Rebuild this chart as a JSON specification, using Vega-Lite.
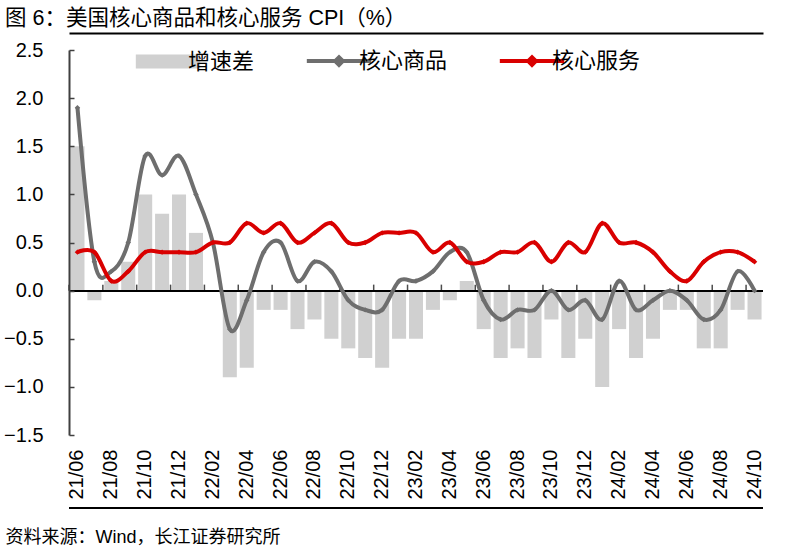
{
  "$schema": "https://vega.github.io/schema/vega-lite/v6.json",
  "autosize": {"type": "none"},
  "width": 694,
  "height": 385,
  "padding": {"left": 69, "top": 50, "right": 22, "bottom": 124},
  "background": "white",
  "title": {
    "text": "图 6：美国核心商品和核心服务 CPI（%）",
    "anchor": "start",
    "frame": "group",
    "dx": -64,
    "offset": 4,
    "font": "Liberation Sans, Noto Sans CJK SC",
    "fontSize": 21.5,
    "fontWeight": "normal",
    "color": "#000000"
  },
  "config": {
    "view": {"stroke": null},
    "axis": {"labelFont": "Liberation Sans", "labelFontSize": 20, "labelColor": "#000000", "grid": false}
  },
  "data": {
    "values": [
      {"month": "21/06", "goods": 1.9, "services": 0.4, "diff": 1.5},
      {"month": "21/07", "goods": 0.3, "services": 0.4, "diff": -0.1},
      {"month": "21/08", "goods": 0.2, "services": 0.1, "diff": 0.1},
      {"month": "21/09", "goods": 0.5, "services": 0.2, "diff": 0.3},
      {"month": "21/10", "goods": 1.4, "services": 0.4, "diff": 1.0},
      {"month": "21/11", "goods": 1.2, "services": 0.4, "diff": 0.8},
      {"month": "21/12", "goods": 1.4, "services": 0.4, "diff": 1.0},
      {"month": "22/01", "goods": 1.0, "services": 0.4, "diff": 0.6},
      {"month": "22/02", "goods": 0.5, "services": 0.5, "diff": 0.0},
      {"month": "22/03", "goods": -0.4, "services": 0.5, "diff": -0.9},
      {"month": "22/04", "goods": -0.1, "services": 0.7, "diff": -0.8},
      {"month": "22/05", "goods": 0.4, "services": 0.6, "diff": -0.2},
      {"month": "22/06", "goods": 0.5, "services": 0.7, "diff": -0.2},
      {"month": "22/07", "goods": 0.1, "services": 0.5, "diff": -0.4},
      {"month": "22/08", "goods": 0.3, "services": 0.6, "diff": -0.3},
      {"month": "22/09", "goods": 0.2, "services": 0.7, "diff": -0.5},
      {"month": "22/10", "goods": -0.1, "services": 0.5, "diff": -0.6},
      {"month": "22/11", "goods": -0.2, "services": 0.5, "diff": -0.7},
      {"month": "22/12", "goods": -0.2, "services": 0.6, "diff": -0.8},
      {"month": "23/01", "goods": 0.1, "services": 0.6, "diff": -0.5},
      {"month": "23/02", "goods": 0.1, "services": 0.6, "diff": -0.5},
      {"month": "23/03", "goods": 0.2, "services": 0.4, "diff": -0.2},
      {"month": "23/04", "goods": 0.4, "services": 0.5, "diff": -0.1},
      {"month": "23/05", "goods": 0.4, "services": 0.3, "diff": 0.1},
      {"month": "23/06", "goods": -0.1, "services": 0.3, "diff": -0.4},
      {"month": "23/07", "goods": -0.3, "services": 0.4, "diff": -0.7},
      {"month": "23/08", "goods": -0.2, "services": 0.4, "diff": -0.6},
      {"month": "23/09", "goods": -0.2, "services": 0.5, "diff": -0.7},
      {"month": "23/10", "goods": 0.0, "services": 0.3, "diff": -0.3},
      {"month": "23/11", "goods": -0.2, "services": 0.5, "diff": -0.7},
      {"month": "23/12", "goods": -0.1, "services": 0.4, "diff": -0.5},
      {"month": "24/01", "goods": -0.3, "services": 0.7, "diff": -1.0},
      {"month": "24/02", "goods": 0.1, "services": 0.5, "diff": -0.4},
      {"month": "24/03", "goods": -0.2, "services": 0.5, "diff": -0.7},
      {"month": "24/04", "goods": -0.1, "services": 0.4, "diff": -0.5},
      {"month": "24/05", "goods": 0.0, "services": 0.2, "diff": -0.2},
      {"month": "24/06", "goods": -0.1, "services": 0.1, "diff": -0.2},
      {"month": "24/07", "goods": -0.3, "services": 0.3, "diff": -0.6},
      {"month": "24/08", "goods": -0.2, "services": 0.4, "diff": -0.6},
      {"month": "24/09", "goods": 0.2, "services": 0.4, "diff": -0.2},
      {"month": "24/10", "goods": 0.0, "services": 0.3, "diff": -0.3}
    ]
  },
  "resolve": {"axis": {"x": "independent"}},
  "layer": [
    {
      "mark": {"type": "bar", "color": "#d0d0d0"},
      "encoding": {
        "x": {
          "field": "month", "type": "ordinal", "sort": null,
          "scale": {"paddingInner": 0.17, "paddingOuter": 0.085},
          "axis": {
            "orient": "bottom",
            "values": ["21/06","21/08","21/10","21/12","22/02","22/04","22/06","22/08","22/10","22/12","23/02","23/04","23/06","23/08","23/10","23/12","24/02","24/04","24/06","24/08","24/10"],
            "labelAngle": -90,
            "labelPadding": 14,
            "ticks": false,
            "domain": false,
            "title": null
          }
        },
        "y": {
          "field": "diff", "type": "quantitative",
          "scale": {"domain": [-1.5, 2.5], "nice": false, "zero": false},
          "axis": {
            "values": [-1.5, -1.0, -0.5, 0, 0.5, 1.0, 1.5, 2.0, 2.5],
            "format": ".1f",
            "title": null,
            "zindex": 2,
            "domainColor": "#404040",
            "domainWidth": 2,
            "tickColor": "#404040",
            "tickWidth": 1.5,
            "tickSize": -5,
            "labelPadding": 31
          }
        },
        "color": {
          "datum": "增速差",
          "scale": {"domain": ["增速差", "核心商品", "核心服务"], "range": ["#d0d0d0", "#6e6e6e", "#d90000"]},
          "legend": {
            "orient": "none",
            "legendX": 88,
            "legendY": 0,
            "direction": "horizontal",
            "title": null,
            "symbolSize": 4145,
            "labelOffset": 9,
            "columnPadding": 43,
            "labelFont": "Noto Sans CJK SC",
            "labelFontSize": 22,
            "labelColor": "#000000",
            "encode": {
              "symbols": {
                "update": {
                  "shape": {"signal": "datum.value === '增速差' ? 'M-1,-0.22H1V0.22H-1Z' : 'M-1,0H1M-0.12,0L0,-0.12L0.12,0L0,0.12Z'"},
                  "size": {"value": 4145},
                  "fill": {"scale": "color", "field": "value"},
                  "stroke": {"scale": "color", "field": "value"},
                  "strokeWidth": {"signal": "datum.value === '增速差' ? 0 : 4"},
                  "opacity": {"value": 1},
                  "fillOpacity": {"value": 1},
                  "strokeOpacity": {"value": 1}
                }
              }
            }
          }
        }
      }
    },
    {
      "mark": {"type": "rule", "color": "#000000", "strokeWidth": 1.5},
      "encoding": {"y": {"datum": 0}}
    },
    {
      "transform": [{"filter": {"field": "month", "oneOf": ["21/06","21/08","21/10","21/12","22/02","22/04","22/06","22/08","22/10","22/12","23/02","23/04","23/06","23/08","23/10","23/12","24/02","24/04","24/06","24/08","24/10"]}}],
      "mark": {"type": "tick", "orient": "vertical", "size": 6, "thickness": 1.5, "color": "#000000", "xOffset": -8.46, "yOffset": -3},
      "encoding": {
        "x": {"field": "month", "type": "ordinal", "sort": null, "axis": null},
        "y": {"datum": 0}
      }
    },
    {
      "mark": {"type": "rule", "color": "#000000", "strokeWidth": 2, "clip": false},
      "encoding": {"y": {"datum": -2.258}}
    },
    {
      "mark": {"type": "line", "interpolate": "cardinal", "tension": 0, "strokeWidth": 4,
               "point": {"shape": "diamond", "size": 30, "filled": true, "color": "#7a7a7a"}},
      "encoding": {
        "x": {"field": "month", "type": "ordinal", "sort": null, "axis": null},
        "y": {"field": "goods", "type": "quantitative"},
        "color": {"datum": "核心商品"}
      }
    },
    {
      "mark": {"type": "line", "interpolate": "cardinal", "tension": 0, "strokeWidth": 4,
               "point": {"shape": "diamond", "size": 30, "filled": true, "color": "#d90000"}},
      "encoding": {
        "x": {
          "field": "month", "type": "ordinal", "sort": null,
          "axis": {
            "orient": "top",
            "offset": 17,
            "labels": false,
            "ticks": false,
            "domain": true,
            "domainColor": "#000000",
            "domainWidth": 2,
            "title": "资料来源：Wind，长江证券研究所",
            "titleFont": "Liberation Sans, Noto Sans CJK SC",
            "titleFontSize": 18,
            "titleFontWeight": "normal",
            "titleColor": "#000000",
            "titleAnchor": "start",
            "titleAlign": "left",
            "titleBaseline": "middle",
            "titleX": -64,
            "titleY": 504
          }
        },
        "y": {"field": "services", "type": "quantitative"},
        "color": {"datum": "核心服务"}
      }
    }
  ]
}
